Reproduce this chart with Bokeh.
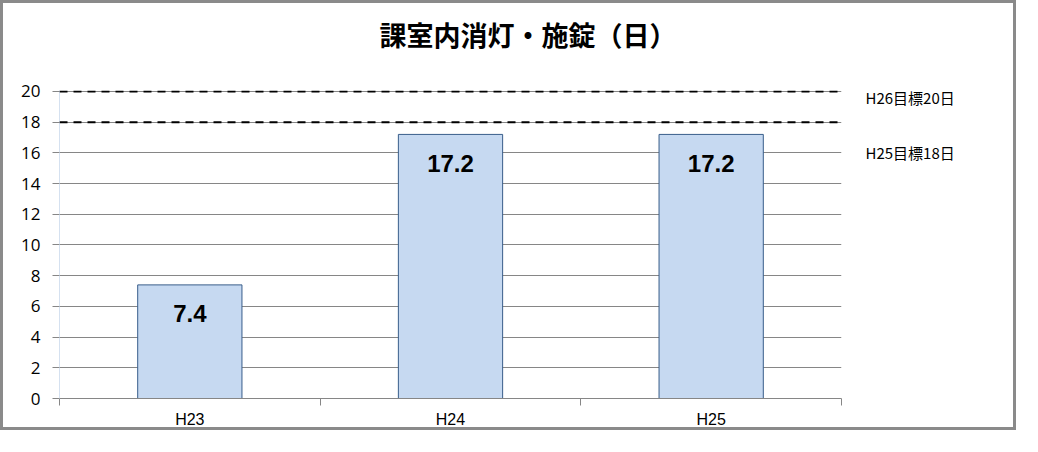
from bokeh.plotting import figure
from bokeh.models import Range1d, FixedTicker, Span, LinearAxis, ColumnDataSource, Title
from bokeh.core.properties import value
from bokeh.embed import file_html
from bokeh.resources import INLINE

# ---- data ----
categories = ["H23", "H24", "H25"]
days = [7.4, 17.2, 17.2]
day_labels = ["7.4", "17.2", "17.2"]
targets = [20, 18]
target_labels = ["H26目標20日", "H25目標18日"]
title_text = "課室内消灯・施錠（日）"
y_ticks = [0, 2, 4, 6, 8, 10, 12, 14, 16, 18, 20]

# ---- layout / styling ----
Y_END = 20.06
FRAME_H = 308
PX_PER_UNIT = FRAME_H / Y_END
target_label_drop_px = [6, 30]   # labels sit a little below their lines

xs = [i + 0.5 for i in range(len(categories))]
src = ColumnDataSource(dict(x=xs, top=days, lab=day_labels))

p = figure(width=1016, height=430, output_backend="svg", toolbar_location=None,
           x_range=Range1d(0, len(categories)), y_range=Range1d(0, Y_END),
           min_border_left=56, min_border_right=178, min_border_top=87,
           min_border_bottom=35)
p.styles = {"border": "3px solid #8a8a8a"}
p.outline_line_color = None
p.background_fill_color = "white"
p.border_fill_color = "white"

# title (a blank spacer title between frame and the real title lifts it up)
spacer = Title(text=" ", text_font_size="1px", standoff=34)
p.add_layout(spacer, "above")
main_title = Title(text=title_text, align="left", offset=320, standoff=0,
                   text_font="Noto Sans CJK JP", text_font_style="bold",
                   text_font_size="27px", text_color="#000000")
p.add_layout(main_title, "above")

# grid
p.xgrid.grid_line_color = None
p.ygrid.grid_line_color = "#868686"
p.ygrid.grid_line_width = 1
p.ygrid.ticker = FixedTicker(ticks=y_ticks)

# y axis
p.yaxis.ticker = FixedTicker(ticks=y_ticks)
p.yaxis.axis_line_color = "#d5e1f0"
p.yaxis.major_tick_line_color = "#868686"
p.yaxis.major_tick_out = 7
p.yaxis.major_tick_in = 0
p.yaxis.minor_tick_line_color = None
p.yaxis.major_label_standoff = 12
p.yaxis.major_label_text_font = "Open Sans"
p.yaxis.major_label_text_font_size = "17px"
p.yaxis.major_label_text_color = "#000000"

# x axis: labels at centres, ticks at category boundaries
p.xaxis.ticker = FixedTicker(ticks=xs, minor_ticks=list(range(len(categories) + 1)))
p.xaxis.major_label_overrides = {x: c for x, c in zip(xs, categories)}
p.xaxis.axis_line_color = "#868686"
p.xaxis.major_tick_line_color = None
p.xaxis.major_tick_out = 0
p.xaxis.major_tick_in = 0
p.xaxis.minor_tick_line_color = "#868686"
p.xaxis.minor_tick_out = 7
p.xaxis.minor_tick_in = 0
p.xaxis.major_label_standoff = 5
p.xaxis.major_label_text_font = "Liberation Sans"
p.xaxis.major_label_text_font_size = "16px"
p.xaxis.major_label_text_color = "#000000"

# bars
p.vbar(x="x", top="top", width=0.4, bottom=0, source=src,
       fill_color="#c6d9f1", line_color="#385d8a", line_width=1)

# value labels
p.text(x="x", y="top", text="lab", source=src, text_align="center",
       text_baseline="middle", y_offset=29,
       text_font=value("Liberation Sans"), text_font_style="bold",
       text_font_size="24px", text_color="#000000")

# target lines
for t in targets:
    p.add_layout(Span(location=t, dimension="width", line_color="#000000",
                      line_width=2, line_dash="8 6"))

# target labels on a right-hand axis
label_pos = [round(t - d / PX_PER_UNIT, 3) for t, d in zip(targets, target_label_drop_px)]
raxis = LinearAxis(ticker=FixedTicker(ticks=label_pos),
                   major_label_overrides={pos: lab for pos, lab in zip(label_pos, target_labels)})
raxis.axis_line_color = None
raxis.major_tick_line_color = None
raxis.minor_tick_line_color = None
raxis.major_tick_out = 0
raxis.major_tick_in = 0
raxis.major_label_standoff = 24
raxis.major_label_text_font = "Noto Sans CJK JP"
raxis.major_label_text_font_size = "15px"
raxis.major_label_text_color = "#000000"
p.add_layout(raxis, "right")

open("out.html", "w").write(file_html(p, INLINE))
